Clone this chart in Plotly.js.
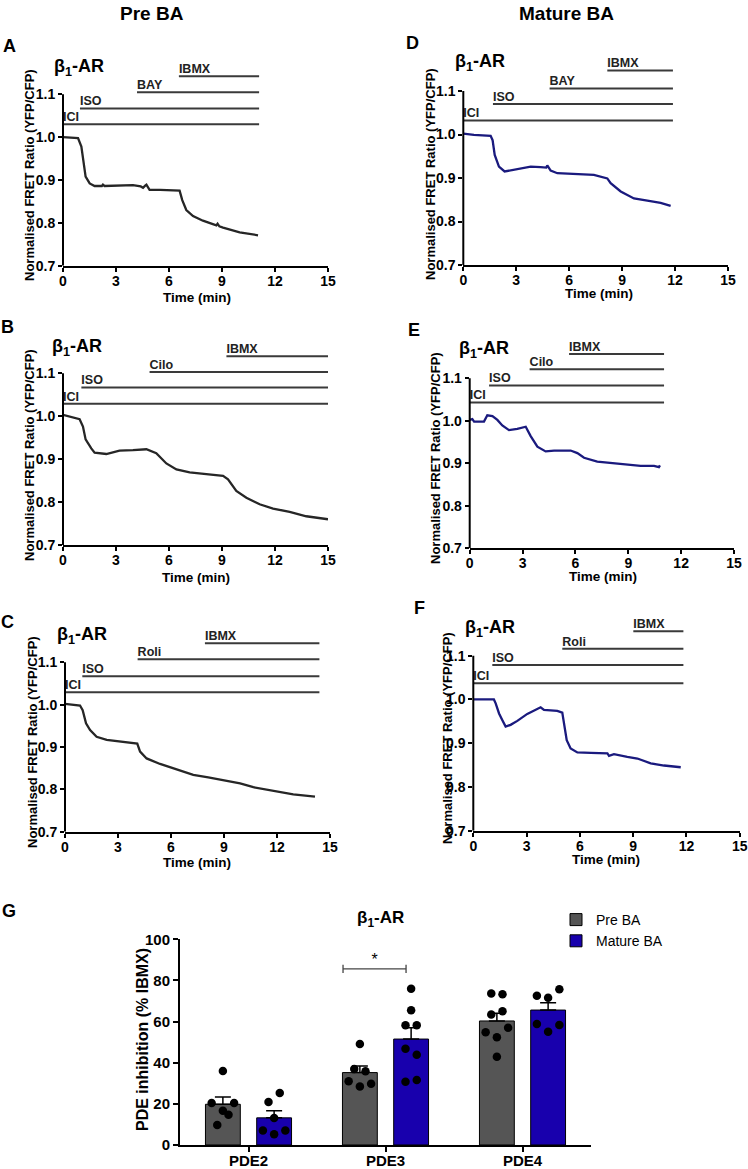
<!DOCTYPE html>
<html><head><meta charset="utf-8">
<script src="https://cdn.plot.ly/plotly-3.0.1.min.js"></script>
<style>html,body{margin:0;padding:0;background:#fff}</style>
</head><body><div id="chart" style="width:748px;height:1169px"></div>
<script>
// ================= DATA =================
// FRET traces (time in min, normalised FRET ratio)
const timeA = [0, 0.85, 1.04, 1.17, 1.28, 1.51, 1.79, 2.2, 2.26, 2.35, 3.0, 3.96, 4.4, 4.53, 4.65, 4.72, 4.9, 5.5, 6.6, 6.75, 6.98, 7.36, 7.92, 8.49, 8.68, 8.75, 8.85, 9.06, 10.0, 11.04];
const fretA = [1.0, 0.998, 0.978, 0.939, 0.908, 0.892, 0.886, 0.886, 0.889, 0.886, 0.887, 0.888, 0.885, 0.882, 0.887, 0.889, 0.877, 0.877, 0.875, 0.853, 0.830, 0.816, 0.805, 0.797, 0.794, 0.798, 0.792, 0.789, 0.778, 0.771];
const timeB = [0, 0.94, 1.13, 1.28, 1.6, 1.79, 2.45, 3.2, 3.96, 4.72, 5.28, 5.85, 6.42, 7.17, 8.11, 9.06, 9.34, 9.81, 10.38, 11.13, 11.89, 12.83, 13.77, 15.0];
const fretB = [1.003, 0.993, 0.976, 0.946, 0.925, 0.915, 0.912, 0.920, 0.921, 0.923, 0.914, 0.890, 0.876, 0.869, 0.865, 0.861, 0.853, 0.826, 0.810, 0.795, 0.785, 0.777, 0.767, 0.760];
const timeC = [0, 0.85, 1.0, 1.19, 1.42, 1.79, 2.36, 3.11, 3.87, 4.09, 4.25, 4.62, 5.38, 6.32, 7.26, 8.11, 8.96, 9.91, 10.66, 11.79, 12.92, 14.15];
const fretC = [1.002, 0.998, 0.987, 0.956, 0.940, 0.924, 0.917, 0.913, 0.909, 0.908, 0.889, 0.873, 0.860, 0.847, 0.834, 0.828, 0.822, 0.814, 0.805, 0.796, 0.788, 0.783];
const timeD = [0, 0.6, 1.55, 1.66, 1.78, 2.02, 2.34, 3.06, 3.82, 4.38, 4.7, 4.76, 4.95, 5.33, 6.27, 7.4, 8.16, 8.35, 8.92, 9.67, 10.43, 11.18, 11.75];
const fretD = [1.002, 0.999, 0.997, 0.987, 0.953, 0.926, 0.915, 0.921, 0.926, 0.925, 0.924, 0.929, 0.917, 0.911, 0.909, 0.907, 0.899, 0.888, 0.869, 0.853, 0.848, 0.843, 0.836];
const timeE = [0, 0.15, 0.25, 0.81, 1.0, 1.29, 1.57, 1.85, 2.23, 2.7, 3.18, 3.46, 3.84, 4.31, 4.79, 5.73, 6.11, 6.49, 7.24, 8.19, 8.95, 9.7, 10.46, 10.74, 10.8];
const fretE = [1.002, 1.004, 0.998, 0.998, 1.013, 1.011, 1.002, 0.989, 0.978, 0.981, 0.986, 0.964, 0.939, 0.928, 0.930, 0.930, 0.924, 0.913, 0.904, 0.900, 0.896, 0.894, 0.894, 0.891, 0.895];
const timeF = [0, 1.16, 1.26, 1.45, 1.63, 1.82, 2.1, 2.48, 3.04, 3.6, 3.79, 3.98, 4.73, 5.01, 5.11, 5.26, 5.48, 5.86, 6.61, 7.55, 7.64, 7.92, 8.67, 9.24, 9.99, 10.74, 11.68];
const fretF = [1.0, 1.0, 0.991, 0.968, 0.953, 0.938, 0.942, 0.951, 0.967, 0.978, 0.982, 0.976, 0.974, 0.970, 0.945, 0.907, 0.888, 0.879, 0.878, 0.877, 0.871, 0.875, 0.869, 0.865, 0.854, 0.849, 0.845];

// Drug application bars (start time, min) and end of recording
const treatNamesA = ['ICI', 'ISO', 'BAY', 'IBMX'];  const treatStartA = [0, 0.96, 4.19, 6.56];  const treatEndA = 11.1;
const treatNamesB = ['ICI', 'ISO', 'Cilo', 'IBMX']; const treatStartB = [0, 1.04, 4.9, 9.25];   const treatEndB = 15.0;
const treatNamesC = ['ICI', 'ISO', 'Roli', 'IBMX']; const treatStartC = [0, 0.98, 4.11, 7.92];  const treatEndC = 14.4;
const treatNamesD = ['ICI', 'ISO', 'BAY', 'IBMX'];  const treatStartD = [0, 1.68, 4.89, 8.16];  const treatEndD = 11.88;
const treatNamesE = ['ICI', 'ISO', 'Cilo', 'IBMX']; const treatStartE = [0, 1.10, 3.40, 5.64];  const treatEndE = 11.03;
const treatNamesF = ['ICI', 'ISO', 'Roli', 'IBMX']; const treatStartF = [0, 1.07, 5.01, 9.01];  const treatEndF = 11.83;

const xTicks = [0, 3, 6, 9, 12, 15];
const yTicks = [0.7, 0.8, 0.9, 1.0, 1.1];

// Panel G: PDE inhibition (% IBMX)
const categories = ['PDE2', 'PDE3', 'PDE4'];
const groupNames = ['Pre BA', 'Mature BA'];
const preMean = [19.8, 35.2, 60.3];
const preSEM = [3.5, 3.2, 3.7];
const matureMean = [13.2, 51.5, 65.6];
const matureSEM = [3.4, 5.5, 3.6];
const prePoints = [[36.0, 20.4, 20.4, 16.7, 14.7, 9.7], [49.1, 36.9, 35.8, 31.0, 29.8, 28.4], [73.7, 73.3, 63.4, 65.0, 54.8, 57.0, 52.4, 42.9]];
const maturePoints = [[25.3, 20.9, 13.1, 7.1, 7.1, 5.2], [76.0, 65.5, 58.2, 58.2, 46.8, 43.9, 30.8, 31.6], [75.7, 72.6, 71.6, 58.8, 58.3, 55.1]];
const gYTicks = [0, 20, 40, 60, 80, 100];
const sigLabel = '*';

// ================= LAYOUT / STYLE =================
const W = 748, H = 1169;
const FONT = 'Liberation Sans, Arial, Helvetica, sans-serif';
const preColor = '#262626', matureColor = '#1a1a7e', treatColor = '#3a3a3a';
const barPreColor = '#555555', barMatureColor = '#1800ad';
const px = x => x / W, py = y => 1 - y / H;
const bold = s => '<b>' + s + '</b>';

// point jitter (in steps) for the scatter dots, per group
const preJitter = [[0, -2, 2, 0, 1, -1], [0, -1, 1, -2, 2, 0], [-1, 1, -1, 1, -2, 2, 0, 0]];
const matureJitter = [[1, -1, 0, -2, 2, 0], [0, 0, -1, 1, -1, 1, -1, 1], [2, -2, 0, -2, 2, 0]];
const jitterStep = 0.041;
const bargap = 0.252, bargroupgap = 0.32;
const bracketSpan = [-0.31, 0.15], bracketLevel = 85.6, bracketCat = 1;

const panels = [
  {letter: 'A', t: timeA, v: fretA, names: treatNamesA, starts: treatStartA, end: treatEndA, color: preColor,
   x0: 63, x15: 328, y07: 265.7, y11: 94.3, levels: [1.030, 1.067, 1.105, 1.142],
   letterPos: [9, 46], betaPos: [79, 68], yTitle: [30, 175], xTitle: [196.5, 297.7]},
  {letter: 'B', t: timeB, v: fretB, names: treatNamesB, starts: treatStartB, end: treatEndB, color: preColor,
   x0: 63, x15: 328, y07: 545, y11: 373.3, levels: [1.029, 1.067, 1.103, 1.140],
   letterPos: [8, 327], betaPos: [77, 348], yTitle: [29, 455], xTitle: [196, 577]},
  {letter: 'C', t: timeC, v: fretC, names: treatNamesC, starts: treatStartC, end: treatEndC, color: preColor,
   x0: 65, x15: 330, y07: 831.7, y11: 662.3, levels: [1.029, 1.067, 1.107, 1.145],
   letterPos: [8, 622], betaPos: [82, 635], yTitle: [32, 742], xTitle: [197, 862]},
  {letter: 'D', t: timeD, v: fretD, names: treatNamesD, starts: treatStartD, end: treatEndD, color: matureColor,
   x0: 463.3, x15: 728, y07: 265, y11: 91, levels: [1.032, 1.070, 1.106, 1.147],
   letterPos: [412, 43], betaPos: [480, 63], yTitle: [431, 174], xTitle: [599, 293]},
  {letter: 'E', t: timeE, v: fretE, names: treatNamesE, starts: treatStartE, end: treatEndE, color: matureColor,
   x0: 469.7, x15: 734, y07: 548.3, y11: 378.3, levels: [1.043, 1.083, 1.121, 1.157],
   letterPos: [414, 330], betaPos: [484, 350], yTitle: [435, 458], xTitle: [603, 576]},
  {letter: 'F', t: timeF, v: fretF, names: treatNamesF, starts: treatStartF, end: treatEndF, color: matureColor,
   x0: 473.3, x15: 739.7, y07: 830.7, y11: 655.7, levels: [1.037, 1.079, 1.116, 1.156],
   letterPos: [419, 608], betaPos: [490, 628], yTitle: [447, 738], xTitle: [606, 859]}
];

const traces = [];
const shapes = [];
const annotations = [];
const layout = {
  width: W, height: H, margin: {l: 0, r: 0, t: 0, b: 0},
  paper_bgcolor: '#fff', plot_bgcolor: 'rgba(0,0,0,0)',
  font: {family: FONT, color: '#000'},
  showlegend: true,
  barmode: 'group', bargap: bargap, bargroupgap: bargroupgap,
  legend: {x: px(556), y: py(904), xanchor: 'left', yanchor: 'top', bgcolor: 'rgba(0,0,0,0)',
           font: {family: FONT, size: 14, color: '#000'}, tracegroupgap: 0},
  shapes: shapes, annotations: annotations
};

function ann(text, x, y, size, extra) {
  annotations.push(Object.assign({text: text, x: px(x), y: py(y), xref: 'paper', yref: 'paper',
    showarrow: false, xanchor: 'center', yanchor: 'middle',
    font: {family: FONT, size: size, color: '#000'}}, extra || {}));
}

panels.forEach((p, i) => {
  const n = i + 1;
  const xa = 'xaxis' + (n > 1 ? n : ''), ya = 'yaxis' + (n > 1 ? n : '');
  const xr = 'x' + (n > 1 ? n : ''), yr = 'y' + (n > 1 ? n : '');
  const perUnit = (p.y07 - p.y11) / 0.4;
  const yTopVal = 1.2;
  const yTopPx = p.y07 - (yTopVal - 0.7) * perUnit;
  layout[xa] = {domain: [px(p.x0), px(p.x15)], range: [0, 15], anchor: yr,
    tickvals: xTicks, ticktext: xTicks.map(v => bold(v)), ticks: 'outside', ticklen: 4, tickwidth: 2, tickcolor: '#000',
    ticklabelstandoff: -3,
    showline: true, linewidth: 2, linecolor: '#000', showgrid: false, zeroline: false,
    tickfont: {family: FONT, size: 14, color: '#000'}, fixedrange: true};
  layout[ya] = {domain: [py(p.y07), py(yTopPx)], range: [0.7, yTopVal], anchor: xr,
    tickvals: yTicks, ticktext: yTicks.map(v => bold(v.toFixed(1))), ticks: 'outside', ticklen: 4, tickwidth: 2, tickcolor: '#000',
    showline: false, showgrid: false, zeroline: false,
    tickfont: {family: FONT, size: 14, color: '#000'}, fixedrange: true};
  // y-axis line only from 0.7 to 1.1
  shapes.push({type: 'line', xref: xr + ' domain', x0: 0, x1: 0, yref: yr,
    y0: yTicks[0], y1: yTicks[yTicks.length - 1], line: {color: '#000', width: 2}});
  // drug application bars
  p.names.forEach((nm, j) => {
    traces.push({type: 'scatter', mode: 'lines', x: [p.starts[j], p.end], y: [p.levels[j], p.levels[j]],
      xaxis: xr, yaxis: yr, line: {color: treatColor, width: 2}, showlegend: false, hoverinfo: 'skip'});
    traces.push({type: 'scatter', mode: 'text', x: [p.starts[j]], y: [p.levels[j]], text: [bold(nm)],
      textposition: 'top right', cliponaxis: false,
      textfont: {family: FONT, size: 12.5, color: '#222'},
      xaxis: xr, yaxis: yr, showlegend: false, hoverinfo: 'skip'});
  });
  // FRET trace
  traces.push({type: 'scatter', mode: 'lines', x: p.t, y: p.v, xaxis: xr, yaxis: yr,
    line: {color: p.color, width: 2.3}, showlegend: false, name: 'Panel ' + p.letter});
  ann(bold(p.letter), p.letterPos[0], p.letterPos[1], 18);
  ann(bold('β<sub>1</sub>-AR'), p.betaPos[0], p.betaPos[1], 18);
  ann(bold('Normalised FRET Ratio (YFP/CFP)'), p.yTitle[0], p.yTitle[1], 13, {textangle: -90});
  ann(bold('Time (min)'), p.xTitle[0], p.xTitle[1], 13.5);
});

// column titles
ann(bold('Pre BA'), 152, 14, 19);
ann(bold('Mature BA'), 566, 14, 19);

// ---------- Panel G ----------
const gx0 = 180, gx1 = 591, gy0 = 1145, gy100 = 939.3;
layout.xaxis7 = {domain: [px(gx0), px(gx1)], range: [-0.5, categories.length - 0.5], anchor: 'y7',
  tickvals: categories.map((c, i) => i), ticktext: categories.map(bold),
  ticks: 'outside', ticklen: 5, tickwidth: 2, tickcolor: '#000', ticklabelstandoff: -4,
  showline: true, linewidth: 2, linecolor: '#000', showgrid: false, zeroline: false,
  tickfont: {family: FONT, size: 15, color: '#000'}, fixedrange: true};
layout.yaxis7 = {domain: [py(gy0), py(gy100)], range: [0, 100], anchor: 'x7',
  tickvals: gYTicks, ticktext: gYTicks.map(bold), ticks: 'outside', ticklen: 5, tickwidth: 2, tickcolor: '#000',
  showline: true, linewidth: 2, linecolor: '#000', showgrid: false, zeroline: false,
  tickfont: {family: FONT, size: 15, color: '#000'}, fixedrange: true};

const catIdx = categories.map((c, i) => i);
traces.push({type: 'bar', name: groupNames[0], x: catIdx, y: preMean, xaxis: 'x7', yaxis: 'y7',
  marker: {color: barPreColor, line: {color: '#000', width: 1}},
  error_y: {type: 'data', symmetric: false, array: preSEM, arrayminus: preSEM.map(() => 0),
            color: '#000', thickness: 1.5, width: 8}});
traces.push({type: 'bar', name: groupNames[1], x: catIdx, y: matureMean, xaxis: 'x7', yaxis: 'y7',
  marker: {color: barMatureColor, line: {color: '#000', width: 1}},
  error_y: {type: 'data', symmetric: false, array: matureSEM, arrayminus: matureSEM.map(() => 0),
            color: '#000', thickness: 1.5, width: 8}});

const slot = (1 - bargap) / 4;
function dotTrace(points, jitter, sign) {
  const xs = [], ys = [];
  points.forEach((arr, i) => arr.forEach((v, k) => {
    xs.push(i + sign * slot + jitter[i][k] * jitterStep); ys.push(v);
  }));
  return {type: 'scatter', mode: 'markers', x: xs, y: ys, xaxis: 'x7', yaxis: 'y7',
    marker: {color: '#000', size: 8.5}, showlegend: false, cliponaxis: false, hoverinfo: 'y'};
}
traces.push(dotTrace(prePoints, preJitter, -1));
traces.push(dotTrace(maturePoints, matureJitter, 1));

// significance bracket
traces.push({type: 'scatter', mode: 'lines+markers',
  x: [bracketCat + bracketSpan[0], bracketCat + bracketSpan[1]], y: [bracketLevel, bracketLevel],
  xaxis: 'x7', yaxis: 'y7', line: {color: '#444', width: 1.3},
  marker: {symbol: 'line-ns-open', size: 6, color: '#444', line: {width: 1.3, color: '#444'}},
  showlegend: false, hoverinfo: 'skip', cliponaxis: false});
traces.push({type: 'scatter', mode: 'text',
  x: [bracketCat + (bracketSpan[0] + bracketSpan[1]) / 2], y: [bracketLevel], text: [sigLabel],
  textposition: 'top center', textfont: {family: FONT, size: 16, color: '#000'},
  xaxis: 'x7', yaxis: 'y7', showlegend: false, hoverinfo: 'skip', cliponaxis: false});

ann(bold('G'), 9, 911, 18);
ann(bold('β<sub>1</sub>-AR'), 380, 919, 17);
ann(bold('PDE inhibition (% IBMX)'), 142, 1040, 16, {textangle: -90});

Plotly.newPlot('chart', traces, layout, {displayModeBar: false, staticPlot: true});
</script></body></html>
